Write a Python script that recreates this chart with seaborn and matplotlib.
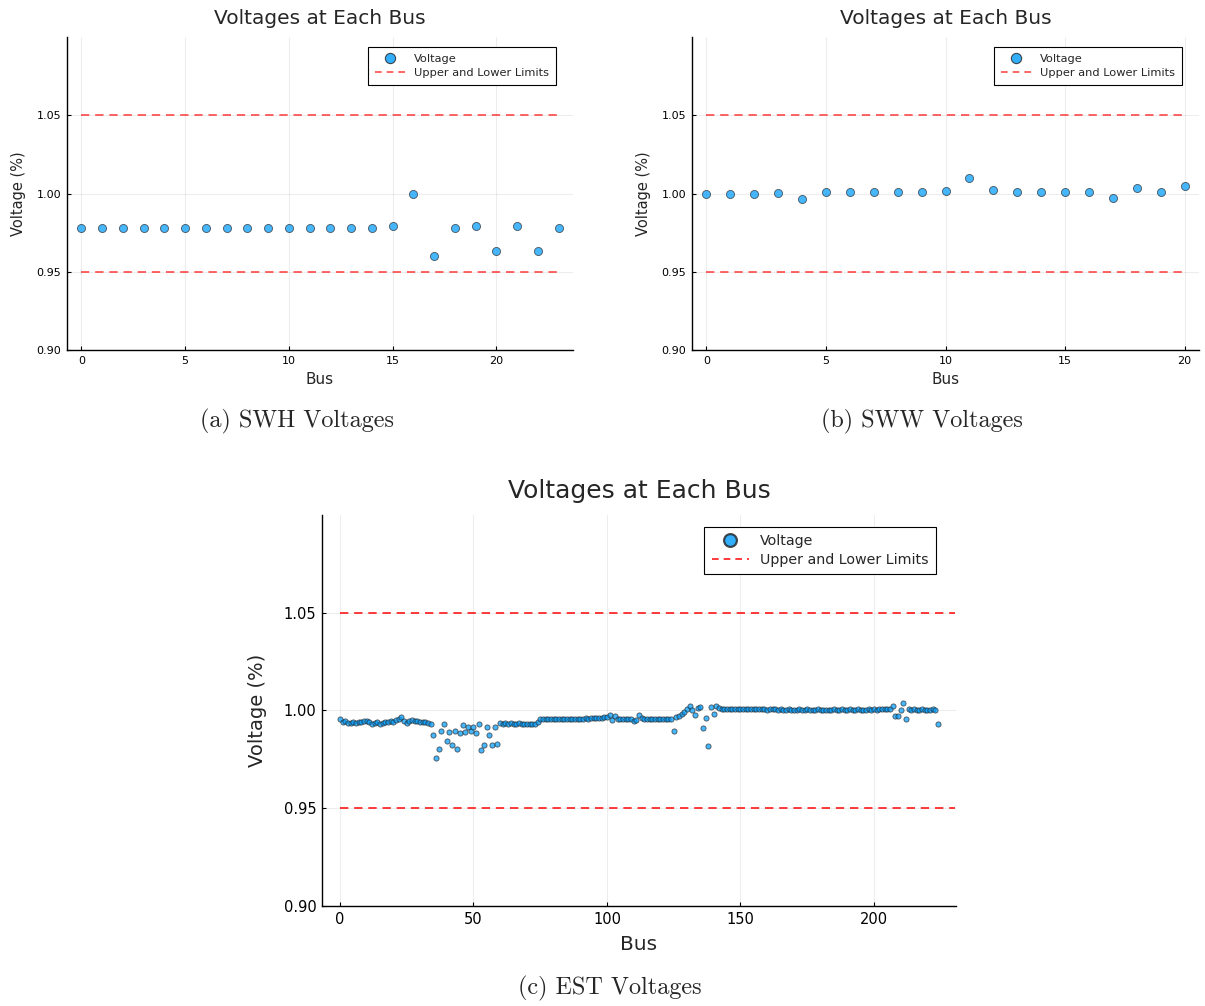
import numpy as np
import pandas as pd
import seaborn as sns
import matplotlib.pyplot as plt
from matplotlib.lines import Line2D

# ---------------- data ----------------
swh_voltage = [0.9778, 0.9778, 0.9778, 0.9778, 0.9778, 0.9777, 0.9777, 0.9778,
               0.9778, 0.9778, 0.9778, 0.9778, 0.9778, 0.9778, 0.9778, 0.9790,
               1.0000, 0.9598, 0.9778, 0.9790, 0.9630, 0.9795, 0.9630, 0.9778]

sww_voltage = [1.0000, 1.0000, 0.9996, 1.0006, 0.9966, 1.0009, 1.0010, 1.0010,
               1.0010, 1.0010, 1.0019, 1.0098, 1.0024, 1.0010, 1.0010, 1.0010,
               1.0010, 0.9970, 1.0038, 1.0010, 1.0045]

est_seg_0_34 = [0.9954, 0.9939, 0.9944, 0.9937, 0.9935, 0.9939, 0.9937, 0.9939, 0.9942, 0.9946,
                0.9946, 0.9939, 0.9932, 0.9935, 0.9939, 0.9932, 0.9935, 0.9942, 0.9939, 0.9946,
                0.9941, 0.9949, 0.9956, 0.9969, 0.9946, 0.9935, 0.9944, 0.9949, 0.9946, 0.9944,
                0.9942, 0.9941, 0.9939, 0.9935, 0.9932]
est_seg_35_59 = [0.9876, 0.9758, 0.9804, 0.9896, 0.9930, 0.9845, 0.9890, 0.9823, 0.9894, 0.9804,
                 0.9883, 0.9927, 0.9890, 0.9915, 0.9896, 0.9915, 0.9886, 0.9930, 0.9800, 0.9821,
                 0.9915, 0.9874, 0.9821, 0.9915, 0.9827]
est_seg_60_74 = [0.9934, 0.9933, 0.9934, 0.9933, 0.9934, 0.9933, 0.9933, 0.9934, 0.9933, 0.9932,
                 0.9933, 0.9931, 0.9929, 0.9933, 0.9943]
est_seg_75_100 = [0.9955, 0.9957, 0.9958, 0.9957, 0.9958, 0.9957, 0.9956, 0.9957, 0.9955, 0.9957,
                  0.9958, 0.9956, 0.9955, 0.9957, 0.9954, 0.9957, 0.9958, 0.9961, 0.9959, 0.9962,
                  0.9960, 0.9964, 0.9963, 0.9962, 0.9966, 0.9968]
est_seg_101_142 = [0.9979, 0.9952, 0.9970,
                   0.9958, 0.9955, 0.9955, 0.9954, 0.9956, 0.9955,
                   0.9944, 0.9950, 0.9979, 0.9962,
                   0.9957, 0.9955, 0.9956, 0.9955, 0.9955, 0.9956, 0.9955, 0.9955, 0.9956, 0.9955,
                   0.9954,
                   0.9896,
                   0.9966, 0.9973, 0.9980, 0.9994, 1.0008, 1.0024, 1.0000, 0.9976, 1.0015, 1.0017,
                   0.9910, 0.9964, 0.9816, 1.0020, 0.9980, 1.0024, 1.0014]
est_seg_143_206 = [1.0008, 1.0007, 1.0006, 1.0007, 1.0006, 1.0006, 1.0007, 1.0006, 1.0006, 1.0007,
                   1.0006, 1.0007, 1.0008, 1.0007, 1.0006, 1.0007, 1.0006, 1.0005, 1.0006, 1.0007,
                   1.0006, 1.0005, 1.0006, 1.0004, 1.0005, 1.0006, 1.0005, 1.0004, 1.0005, 1.0006,
                   1.0004, 1.0005, 1.0006, 1.0004, 1.0005, 1.0004, 1.0006, 1.0005, 1.0004, 1.0005,
                   1.0004, 1.0005, 1.0006, 1.0005, 1.0005, 1.0006, 1.0005, 1.0005, 1.0006, 1.0005,
                   1.0005, 1.0006, 1.0005, 1.0004, 1.0005, 1.0006, 1.0005, 1.0006, 1.0005, 1.0006,
                   1.0007, 1.0006, 1.0008, 1.0009]
est_seg_207_224 = [1.0024, 0.9974, 0.9974, 1.0000, 1.0039, 0.9959,
                   1.0006, 1.0005, 1.0006, 1.0005, 1.0005, 1.0006, 1.0005, 1.0004, 1.0005, 1.0006,
                   1.0005,
                   0.9932]

est_voltage = (est_seg_0_34 + est_seg_35_59 + est_seg_60_74 + est_seg_75_100
               + est_seg_101_142 + est_seg_143_206 + est_seg_207_224)

limits = [1.05, 0.95]
y_ticks = [0.90, 0.95, 1.00, 1.05]
titles = ["Voltages at Each Bus"] * 3
captions = ["(a) SWH Voltages", "(b) SWW Voltages", "(c) EST Voltages"]

# ---------------- style ----------------
sns.set_theme(style="white")
plt.rcParams['font.family'] = ['DejaVu Sans']

point_color = "#009afa"
W, H = 1205, 1006
fig = plt.figure(figsize=(W / 100, H / 100), dpi=100)

ax_a = fig.add_axes([67 / W, 1 - 350 / H, (573 - 67) / W, (350 - 37) / H])
ax_b = fig.add_axes([692 / W, 1 - 350 / H, (1199 - 692) / W, (350 - 37) / H])
ax_c = fig.add_axes([322 / W, 1 - 906 / H, (956 - 322) / W, (906 - 515) / H])


def draw(ax, volts, xticks, ms, tick_fs, label_fs, xlab_fs, title_fs, leg_fs, lim_alpha,
         big, line_end, ylab_pad, xlab_pad, title_pad):
    n = len(volts)
    df = pd.DataFrame({"Bus": np.arange(n), "Voltage": volts})
    pad = 0.03 * (n - 1)
    x_end = (n - 1) if line_end is None else line_end
    for lv in limits:
        ldf = pd.DataFrame({"Bus": [0, x_end], "Voltage": [lv, lv]})
        sns.lineplot(data=ldf, x="Bus", y="Voltage", ax=ax, color="red",
                     linestyle=(0, (5, 3.5)), lw=1.2, alpha=lim_alpha, zorder=2)
    sns.scatterplot(data=df, x="Bus", y="Voltage", ax=ax, s=ms, color=point_color,
                    alpha=0.72, edgecolor="#222222", linewidth=0.6, zorder=3, legend=False)
    ax.set_xlim(-pad, n - 1 + pad)
    ax.set_ylim(0.9, 1.1)
    ax.set_yticks(y_ticks)
    ax.set_yticklabels([f"{v:.2f}" for v in y_ticks])
    ax.set_xticks(xticks)
    ax.grid(True, color="#000000", alpha=0.07, lw=0.8)
    for s in ["top", "right"]:
        ax.spines[s].set_visible(False)
    for s in ["left", "bottom"]:
        ax.spines[s].set_color("black")
        ax.spines[s].set_linewidth(1.0)
    ax.tick_params(axis="both", direction="in", length=3, width=0.8, labelsize=tick_fs,
                   colors="black", pad=4, left=True, bottom=True)
    ax.set_xlabel("Bus", fontsize=xlab_fs, labelpad=xlab_pad)
    ax.set_ylabel("Voltage (%)", fontsize=label_fs, labelpad=ylab_pad)
    ax.set_title(titles[0], fontsize=title_fs, pad=title_pad)
    handles = [Line2D([], [], ls="", marker="o", markersize=leg_fs * 0.9,
                      markerfacecolor=point_color, markeredgecolor="#222222",
                      markeredgewidth=1.6 if big else 0.8, alpha=0.8),
               Line2D([], [], color="red", ls=(0, (4, 3)), lw=1.2, alpha=lim_alpha)]
    return handles


def add_legend(ax, handles, fs, anchor, borderpad, spacing):
    leg = ax.legend(handles, ["Voltage", "Upper and Lower Limits"], loc="upper right",
                    bbox_to_anchor=anchor, borderaxespad=0, fontsize=fs, frameon=True,
                    fancybox=False, framealpha=1, edgecolor="black",
                    borderpad=borderpad, handlelength=2.6, labelspacing=spacing,
                    handletextpad=0.8)
    leg.get_frame().set_linewidth(0.8)


h = draw(ax_a, swh_voltage, [0, 5, 10, 15, 20], 34, 8, 10.5, 11, 14.5, 8.2, 0.7,
         False, None, 8, 5, 9)
add_legend(ax_a, h, 8.2, (0.966, 0.968), 0.6, 0.35)
h = draw(ax_b, sww_voltage, [0, 5, 10, 15, 20], 34, 8, 10.5, 11, 14.5, 8.2, 0.7,
         False, None, 8, 5, 9)
add_legend(ax_b, h, 8.2, (0.966, 0.968), 0.6, 0.35)
h = draw(ax_c, est_voltage, [0, 50, 100, 150, 200], 14, 10.5, 14, 14.5, 18, 10.25, 0.9,
         True, 230.5, 12, 6, 12)
add_legend(ax_c, h, 10.25, (0.968, 0.969), 0.5, 0.3)

cap_font = dict(fontsize=17.4, family=["cmr10", "DejaVu Serif"], ha="center", va="center")
fig.text(297 / W, 1 - 421 / H, captions[0], **cap_font)
fig.text(922 / W, 1 - 421 / H, captions[1], **cap_font)
fig.text(610 / W, 1 - 988 / H, captions[2], **cap_font)

fig.savefig("out.png", dpi=100)
